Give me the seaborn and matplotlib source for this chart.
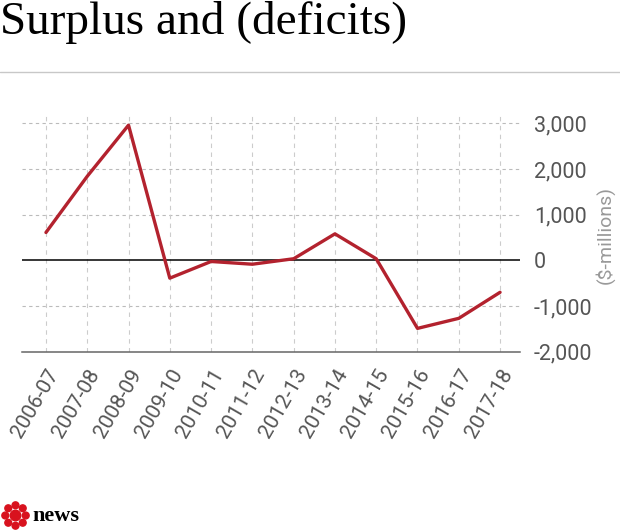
import numpy as np
import pandas as pd
import matplotlib.pyplot as plt
from matplotlib.patches import Circle
from matplotlib.lines import Line2D
import seaborn as sns

years = ['2006-07', '2007-08', '2008-09', '2009-10', '2010-11', '2011-12',
         '2012-13', '2013-14', '2014-15', '2015-16', '2016-17', '2017-18']
balance = [610, 1840, 2960, -390, -25, -85, 35, 580, 35, -1490, -1270, -700]
yticks = [-2000, -1000, 0, 1000, 2000, 3000]

sns.set_style("white")
plt.rcParams['font.family'] = ['Roboto', 'DejaVu Sans']

df = pd.DataFrame({'pos': np.arange(len(years)), 'value': balance})

fig = plt.figure(figsize=(6.2, 5.31), dpi=100)
ax = fig.add_axes([0.0355, 0.3377, 0.803, 0.4438])

# grid
for y in yticks[1:]:
    if y == 0:
        continue
    ax.axhline(y, color='#bbbbbb', linestyle=(0, (3, 3)), linewidth=0.8, zorder=0)
for x in df['pos']:
    ax.axvline(x, color='#cccccc', linestyle=(0, (4, 4)), linewidth=0.8, zorder=0)
ax.axhline(0, color='black', linewidth=1.1, zorder=1)

sns.lineplot(data=df, x='pos', y='value', ax=ax, color='#b3222e', linewidth=2.4, zorder=3)

ax.set_xlim(-0.58, 11.48)
ax.set_ylim(-2000, 3160)
for s in ['top', 'left', 'right']:
    ax.spines[s].set_visible(False)
ax.spines['bottom'].set_color('#666666')
ax.spines['bottom'].set_linewidth(1.1)

ax.yaxis.tick_right()
ax.set_yticks(yticks)
ax.set_yticklabels(['{:,}'.format(v) for v in yticks], color='#555555', fontsize=15.5)
ax.tick_params(axis='y', length=0, pad=10)

ax.set_xticks(df['pos'])
ax.set_xticklabels(years, rotation=60, ha='right', rotation_mode='anchor',
                   color='#555555', fontsize=15)
ax.tick_params(axis='x', length=6, color='#cccccc', width=0.8, pad=4)
ax.set_xlabel('')
ax.set_ylabel('')

fig.text(0.976, 0.557, '($-millions)', rotation=90, color='#999999', fontsize=14,
         ha='center', va='center')

# title and rule
fig.text(0.0, 0.998, 'Surplus and (deficits)', family=['Liberation Serif', 'DejaVu Serif'],
         fontsize=34, ha='left', va='top', color='black')
fig.add_artist(Line2D([0, 1], [1 - 72 / 531, 1 - 72 / 531], color='#c8c8c8', linewidth=1,
                      transform=fig.transFigure))

# logo
lax = fig.add_axes([0.0, 0.0, 0.05, 0.05 * 620 / 531])
lax.set_xlim(-1, 1)
lax.set_ylim(-1, 1)
lax.set_aspect('equal')
lax.axis('off')
lax.add_patch(Circle((0, 0), 0.34, color='#d8121e'))
for a in np.linspace(0, 2 * np.pi, 8, endpoint=False):
    lax.add_patch(Circle((0.66 * np.cos(a), 0.66 * np.sin(a)), 0.22, color='#d8121e'))
fig.text(0.052, 0.029, 'news', family=['Liberation Serif', 'DejaVu Serif'], fontweight='bold',
         fontsize=16, ha='left', va='center', color='black')

fig.savefig('out.png', dpi=100)
